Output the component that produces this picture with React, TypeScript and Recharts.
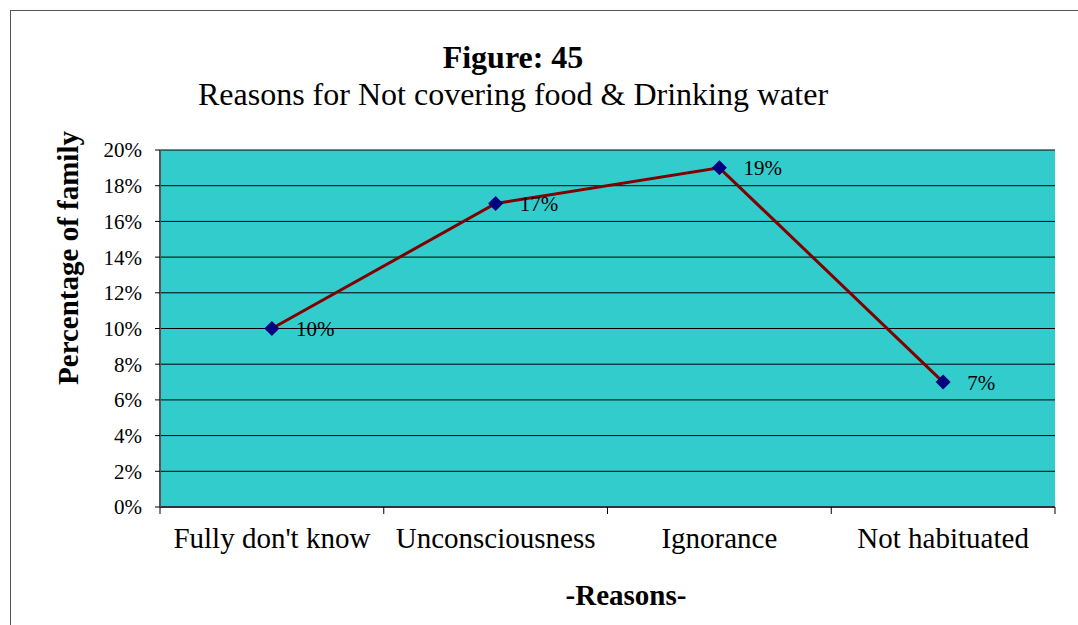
import React from 'react'
import {
  LineChart,
  Line,
  XAxis,
  YAxis,
  CartesianGrid,
  LabelList,
} from 'recharts'

const reasons = ['Fully don\'t know', 'Unconsciousness', 'Ignorance', 'Not habituated']
const familyShare = [0.1, 0.17, 0.19, 0.07]
const yTicks = [0, 0.02, 0.04, 0.06, 0.08, 0.1, 0.12, 0.14, 0.16, 0.18, 0.2]

const rows = reasons.map((reason, i) => ({ reason, share: familyShare[i] }))

const FONT = '"Liberation Serif", "Times New Roman", serif'
const pct = (v: number) => `${Math.round(v * 100)}%`

const CategoryTick = (props: any) => {
  const { x, y, payload, index, visibleTicksCount } = props
  const half = payload?.offset ?? 111.875
  return (
    <g>
      <line x1={x - half} x2={x - half} y1={y - 7} y2={y} stroke='#000' />
      {index === visibleTicksCount - 1 && (
        <line x1={x + half} x2={x + half} y1={y - 7} y2={y} stroke='#000' />
      )}
      <text x={x} y={y + 34} textAnchor='middle' fontSize={29} fontFamily={FONT} fill='#000'>
        {payload.value}
      </text>
    </g>
  )
}

const Diamond = (props: any) => {
  const { cx, cy } = props
  if (cx == null || cy == null) return null
  const r = 7.5
  return (
    <polygon
      points={`${cx},${cy - r} ${cx + r},${cy} ${cx},${cy + r} ${cx - r},${cy}`}
      fill='#000080'
    />
  )
}

const PointLabel = (props: any) => {
  const { x, y, value } = props
  return (
    <text x={x + 24} y={y} dy='0.355em' fontSize={21} fontFamily={FONT} fill='#000'>
      {pct(value)}
    </text>
  )
}

const App = () => {
  return (
    <div style={{ position: 'absolute', left: 0, top: 0, width: 1078, height: 625, overflow: 'hidden', background: '#fff' }}>
      <div
        style={{
          position: 'absolute',
          left: 10,
          top: 10,
          width: 1100,
          height: 700,
          border: '1px solid #555',
        }}
      />
      <div style={{ position: 'absolute', left: 0, top: 0 }}>
        <LineChart
          width={1078}
          height={625}
          data={rows}
          margin={{ top: 150, right: 23, bottom: 58, left: 0 }}
        >
          <CartesianGrid vertical={false} stroke='#000' fill='#33CCCC' fillOpacity={1} />
          <XAxis
            dataKey='reason'
            scale='band'
            height={60}
            interval={0}
            tickSize={7}
            tickMargin={0}
            tickLine={false}
            axisLine={{ stroke: '#333', strokeWidth: 2 }}
            tick={<CategoryTick />}
          />
          <XAxis
            xAxisId='top'
            dataKey='reason'
            scale='band'
            orientation='top'
            height={0}
            tick={false}
            tickLine={false}
            axisLine={{ stroke: '#888', strokeWidth: 3 }}
          />
          <YAxis
            domain={[0, 0.2]}
            ticks={yTicks}
            width={160}
            tickSize={5}
            tickMargin={13}
            tickFormatter={pct}
            interval={0}
            axisLine={{ stroke: '#555', strokeWidth: 2 }}
            tickLine={{ stroke: '#000' }}
            tick={{ fill: '#000', fontSize: 21, fontFamily: FONT }}
          />
          <YAxis
            yAxisId='right'
            orientation='right'
            width={0}
            domain={[0, 0.2]}
            tick={false}
            tickLine={false}
            axisLine={{ stroke: '#888', strokeWidth: 3 }}
          />
          <Line
            dataKey='share'
            type='linear'
            stroke='#800000'
            strokeWidth={3}
            dot={<Diamond />}
            activeDot={false}
            isAnimationActive={false}
          >
            <LabelList dataKey='share' content={<PointLabel />} />
          </Line>
        </LineChart>
      </div>
      <svg
        width={1078}
        height={625}
        style={{ position: 'absolute', left: 0, top: 0, pointerEvents: 'none' }}
      >
        <text x={513} y={68} textAnchor='middle' fontSize={32} fontWeight='bold' fontFamily={FONT}>
          Figure: 45
        </text>
        <text x={513} y={105} textAnchor='middle' fontSize={32} fontFamily={FONT}>
          Reasons for Not covering food &amp; Drinking water
        </text>
        <text
          x={78}
          y={258}
          textAnchor='middle'
          fontSize={29}
          fontWeight='bold'
          fontFamily={FONT}
          transform='rotate(-90, 78, 258)'
        >
          Percentage of family
        </text>
        <text x={626} y={605} textAnchor='middle' fontSize={29} fontWeight='bold' fontFamily={FONT}>
          -Reasons-
        </text>
      </svg>
    </div>
  )
}

export default App
